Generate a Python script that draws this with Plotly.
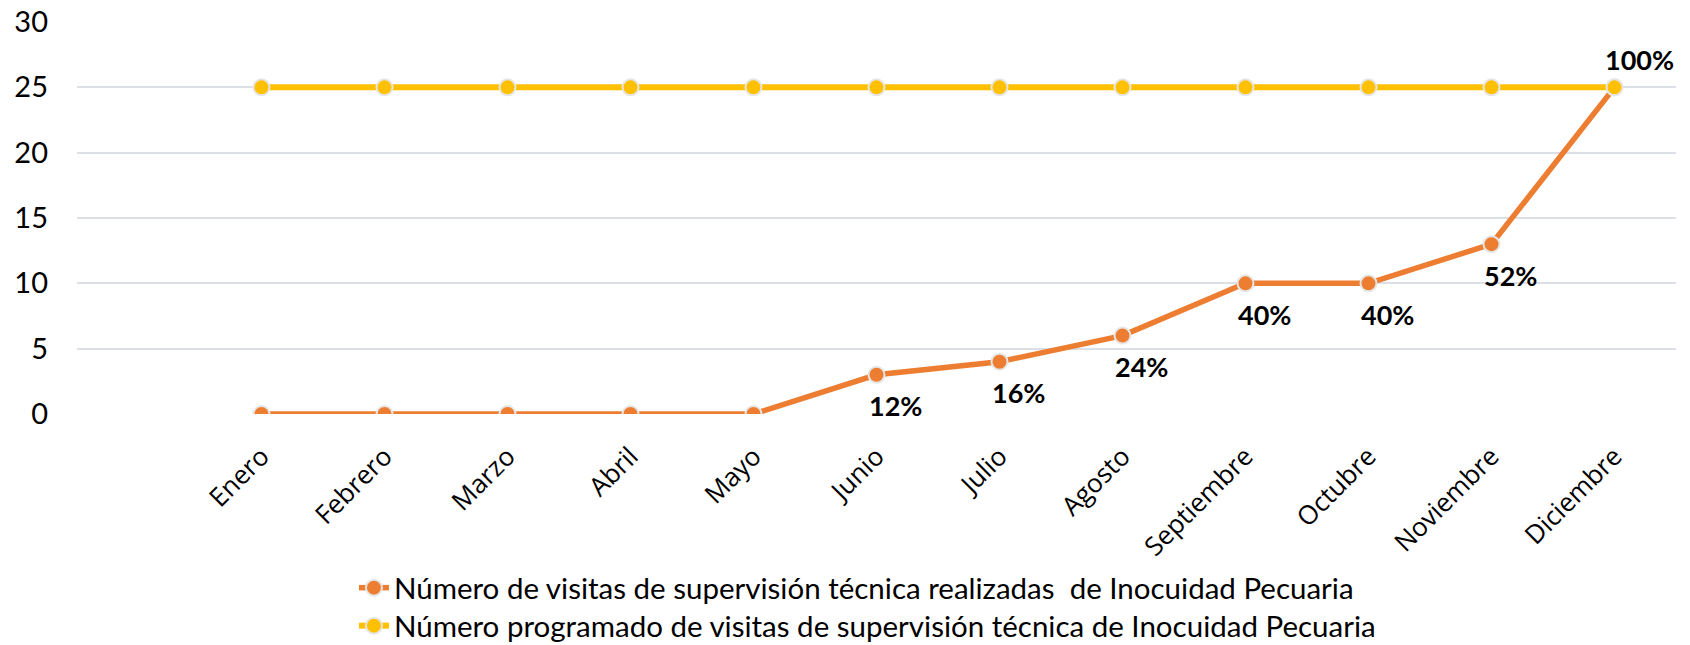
import plotly.graph_objects as go

meses = ["Enero", "Febrero", "Marzo", "Abril", "Mayo", "Junio", "Julio",
         "Agosto", "Septiembre", "Octubre", "Noviembre", "Diciembre"]
realizadas = [0, 0, 0, 0, 0, 3, 4, 6, 10, 10, 13, 25]
programadas = [25, 25, 25, 25, 25, 25, 25, 25, 25, 25, 25, 25]
etiquetas = ["", "", "", "", "", "12%", "16%", "24%", "40%", "40%", "52%", "100%"]

nombre_real = "Número de visitas de supervisión técnica realizadas  de Inocuidad Pecuaria"
nombre_prog = "Número programado de visitas de supervisión técnica de Inocuidad Pecuaria"

FONT = "Lato"
ORANGE = "#ED7D31"
YELLOW = "#FFC000"

fig = go.Figure()
fig.add_trace(go.Scatter(
    x=meses, y=realizadas, name=nombre_real, mode="lines+markers",
    line=dict(color=ORANGE, width=5.5), legend="legend",
    marker=dict(size=16, color=ORANGE, line=dict(color="#E6E6E6", width=2)),
))
fig.add_trace(go.Scatter(
    x=meses, y=programadas, name=nombre_prog, mode="lines+markers",
    line=dict(color=YELLOW, width=6), legend="legend2",
    marker=dict(size=16, color=YELLOW, line=dict(color="#E6E6E6", width=2)),
))

for i, (m, v, t) in enumerate(zip(meses, realizadas, etiquetas)):
    if not t:
        continue
    above = v >= programadas[i]
    fig.add_annotation(
        x=m, y=v, text=f"<b>{t}</b>", showarrow=False,
        xshift=25 if above else 19, yshift=28 if above else -31,
        font=dict(family=FONT, size=27, color="black"),
    )

legend_style = dict(x=0.1732, xanchor="left", yref="container", yanchor="middle",
                    bgcolor="rgba(0,0,0,0)",
                    font=dict(family=FONT, size=29.5, color="black"))

fig.update_layout(
    width=1690, height=645,
    margin=dict(l=77, r=14, t=22, b=231, autoexpand=False),
    paper_bgcolor="white", plot_bgcolor="white",
    font=dict(family=FONT, size=29, color="black"),
    showlegend=True,
    legend=dict(y=0.0884, **legend_style),
    legend2=dict(y=0.0295, **legend_style),
    xaxis=dict(
        type="category", categoryorder="array", categoryarray=meses,
        range=[-1.5, 11.5], showgrid=False, showline=False, zeroline=False,
        tickangle=-45, ticks="", ticklabelstandoff=21, automargin=False,
        tickfont=dict(family="Open Sans", size=26, color="black"),
    ),
    yaxis=dict(
        range=[0, 30], dtick=5, showgrid=True, gridcolor="#DCE0E6", gridwidth=1.5,
        zeroline=False, showline=False, ticks="", ticklabelstandoff=28, automargin=False,
        ticklabeloverflow="allow",
        tickfont=dict(family=FONT, size=29, color="black"),
    ),
)

fig.write_html("out.html", config={"displayModeBar": False},
               post_script="document.body.style.margin='0';")
